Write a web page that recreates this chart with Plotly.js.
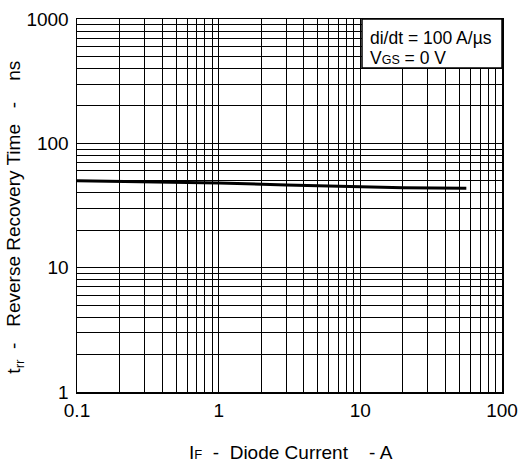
<!DOCTYPE html>
<html>
<head>
<meta charset="utf-8">
<script src="https://cdn.plot.ly/plotly-3.0.1.min.js"></script>
<style>
html,body{margin:0;padding:0;background:#fff;}
#chart{width:522px;height:463px;}
</style>
</head>
<body>
<div id="chart"></div>
<script>
// Data
const currentA = [0.1, 0.3, 1, 3, 10, 20, 56];
const trrNs = [50, 49.2, 48, 46.3, 44.5, 43.9, 43.5];
const xTickVals = [0.1, 1, 10, 100];
const xTickText = ['0.1', '1', '10', '100'];
const yTickVals = [1, 10, 100, 1000];
const yTickText = ['1', '10', '100', '1000'];

const FONT = 'Liberation Sans, Arial, sans-serif';
const SP = '&nbsp;';
const sp = n => SP.repeat(n);

const trace = {
  x: currentA, y: trrNs, type: 'scatter', mode: 'lines',
  line: {color: '#000', width: 3}, hoverinfo: 'skip'
};

const axisCommon = {
  type: 'log',
  showgrid: true, gridcolor: '#000', gridwidth: 1,
  zeroline: false,
  showline: true, linecolor: '#000', linewidth: 1.5, mirror: true,
  ticks: '', tickmode: 'array',
  tickfont: {family: FONT, size: 19, color: '#000'},
  minor: {dtick: 'D1', showgrid: true, gridcolor: '#000', gridwidth: 1, ticks: ''}
};

const layout = {
  width: 522, height: 463,
  margin: {l: 77, r: 20, t: 19, b: 71},
  paper_bgcolor: '#fff', plot_bgcolor: '#fff',
  showlegend: false,
  xaxis: Object.assign({}, axisCommon, {range: [-1, 2], tickvals: xTickVals, ticktext: xTickText, ticklabelstandoff: 1}),
  yaxis: Object.assign({}, axisCommon, {range: [0, 3], tickvals: yTickVals, ticktext: yTickText, ticklabelstandoff: 3}),
  shapes: [{
    type: 'rect', xref: 'paper', yref: 'paper',
    x0: 0.6706, x1: 1, y0: 0.8686, y1: 1,
    fillcolor: '#fff', line: {color: '#000', width: 1.5}, layer: 'above'
  }],
  annotations: [
    {
      xref: 'paper', yref: 'paper', x: 0.684, y: 0.949, xanchor: 'left', yanchor: 'middle',
      align: 'left', showarrow: false,
      text: 'di/dt = 100 A/µs',
      font: {family: FONT, size: 17.5, color: '#000'}
    },
    {
      xref: 'paper', yref: 'paper', x: 0.684, y: 0.895, xanchor: 'left', yanchor: 'middle',
      align: 'left', showarrow: false,
      text: 'V<span style="font-size:12.5px">GS</span> = 0 V',
      font: {family: FONT, size: 17.5, color: '#000'}
    },
    {
      xref: 'paper', yref: 'paper', x: 0.5035, y: -0.161, xanchor: 'center', yanchor: 'middle',
      showarrow: false,
      text: 'I<span style="font-size:13px">F</span>' + sp(2) + '-' + sp(2) + 'Diode Current' + sp(4) + '- A',
      font: {family: FONT, size: 19, color: '#000'}
    },
    {
      xref: 'paper', yref: 'paper', x: -0.146, y: 0.47, xanchor: 'center', yanchor: 'middle',
      showarrow: false, textangle: -90,
      text: 't<sub>rr</sub>' + sp(2) + '-' + sp(3) + 'Reverse Recovery Time' + sp(3) + '-' + sp(4) + 'ns',
      font: {family: FONT, size: 19, color: '#000'}
    }
  ]
};

Plotly.newPlot('chart', [trace], layout, {staticPlot: true, displayModeBar: false});
</script>
</body>
</html>
